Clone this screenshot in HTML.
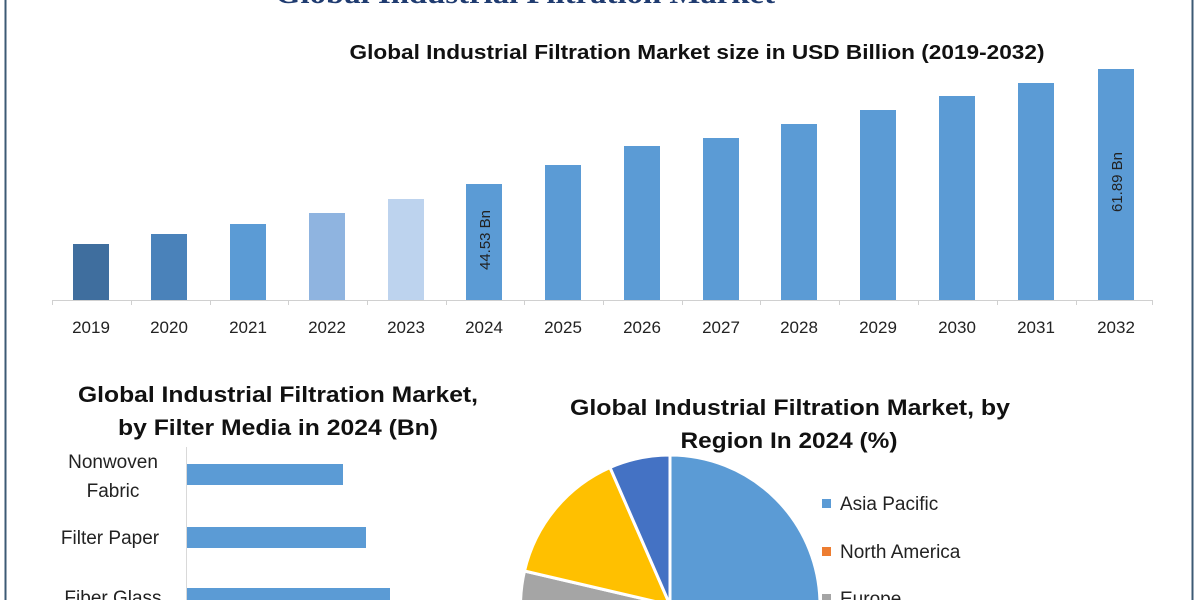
<!DOCTYPE html>
<html><head><meta charset="utf-8"><style>html,body{margin:0;padding:0;background:#fff;width:1200px;height:600px;overflow:hidden}svg{display:block}</style></head>
<body>
<svg width="1200" height="600" viewBox="0 0 1200 600" xmlns="http://www.w3.org/2000/svg" font-family="Liberation Sans, sans-serif" overflow="hidden">
<rect width="1200" height="600" fill="#fff"/>
<line x1="5.5" y1="0" x2="5.5" y2="600" stroke="#3c5a74" stroke-width="2"/>
<line x1="1192.5" y1="0" x2="1192.5" y2="600" stroke="#3c5a74" stroke-width="2"/>
<text x="525" y="3" font-family="Liberation Serif, serif" font-weight="bold" font-size="30" fill="#1f3b70" text-anchor="middle" textLength="500" lengthAdjust="spacingAndGlyphs">Global Industrial Filtration Market</text>
<text x="697" y="59" font-weight="bold" font-size="20" fill="#111" text-anchor="middle" textLength="695" lengthAdjust="spacingAndGlyphs">Global Industrial Filtration Market size in USD Billion (2019-2032)</text>
<line x1="52" y1="300.5" x2="1152" y2="300.5" stroke="#d0d0d0" stroke-width="1"/>
<g stroke="#d0d0d0"><line x1="52.5" y1="300" x2="52.5" y2="305"/><line x1="131.5" y1="300" x2="131.5" y2="305"/><line x1="210.5" y1="300" x2="210.5" y2="305"/><line x1="288.5" y1="300" x2="288.5" y2="305"/><line x1="367.5" y1="300" x2="367.5" y2="305"/><line x1="446.5" y1="300" x2="446.5" y2="305"/><line x1="524.5" y1="300" x2="524.5" y2="305"/><line x1="603.5" y1="300" x2="603.5" y2="305"/><line x1="682.5" y1="300" x2="682.5" y2="305"/><line x1="760.5" y1="300" x2="760.5" y2="305"/><line x1="839.5" y1="300" x2="839.5" y2="305"/><line x1="918.5" y1="300" x2="918.5" y2="305"/><line x1="997.5" y1="300" x2="997.5" y2="305"/><line x1="1076.5" y1="300" x2="1076.5" y2="305"/><line x1="1152.5" y1="300" x2="1152.5" y2="305"/></g>
<rect x="73" y="244" width="36" height="56" fill="#3f6e9e"/>
<rect x="151" y="234" width="36" height="66" fill="#4a82ba"/>
<rect x="230" y="224" width="36" height="76" fill="#5b9bd5"/>
<rect x="309" y="213" width="36" height="87" fill="#8fb4e0"/>
<rect x="388" y="199" width="36" height="101" fill="#bdd3ee"/>
<rect x="466" y="184" width="36" height="116" fill="#5b9bd5"/>
<rect x="545" y="165" width="36" height="135" fill="#5b9bd5"/>
<rect x="624" y="146" width="36" height="154" fill="#5b9bd5"/>
<rect x="703" y="138" width="36" height="162" fill="#5b9bd5"/>
<rect x="781" y="124" width="36" height="176" fill="#5b9bd5"/>
<rect x="860" y="110" width="36" height="190" fill="#5b9bd5"/>
<rect x="939" y="96" width="36" height="204" fill="#5b9bd5"/>
<rect x="1018" y="83" width="36" height="217" fill="#5b9bd5"/>
<rect x="1098" y="69" width="36" height="231" fill="#5b9bd5"/>
<text transform="translate(490,240) rotate(-90)" font-size="15" fill="#222" text-anchor="middle">44.53 Bn</text>
<text transform="translate(1122,182) rotate(-90)" font-size="15" fill="#222" text-anchor="middle">61.89 Bn</text>
<g font-size="17" fill="#222" text-anchor="middle">
<text x="91" y="333">2019</text><text x="169" y="333">2020</text><text x="248" y="333">2021</text><text x="327" y="333">2022</text><text x="406" y="333">2023</text><text x="484" y="333">2024</text><text x="563" y="333">2025</text><text x="642" y="333">2026</text><text x="721" y="333">2027</text><text x="799" y="333">2028</text><text x="878" y="333">2029</text><text x="957" y="333">2030</text><text x="1036" y="333">2031</text><text x="1116" y="333">2032</text>
</g>
<g font-weight="bold" font-size="22" fill="#111" text-anchor="middle">
<text x="278" y="402" textLength="400" lengthAdjust="spacingAndGlyphs">Global Industrial Filtration Market,</text>
<text x="278" y="435" textLength="320" lengthAdjust="spacingAndGlyphs">by Filter Media in 2024 (Bn)</text>
<text x="790" y="415" textLength="440" lengthAdjust="spacingAndGlyphs">Global Industrial Filtration Market, by</text>
<text x="789" y="448" textLength="217" lengthAdjust="spacingAndGlyphs">Region In 2024 (%)</text>
</g>
<line x1="186.5" y1="447" x2="186.5" y2="600" stroke="#d9d9d9"/>
<rect x="187" y="464" width="156" height="21" fill="#5b9bd5"/>
<rect x="187" y="527" width="179" height="21" fill="#5b9bd5"/>
<rect x="187" y="588" width="203" height="21" fill="#5b9bd5"/>
<g font-size="19" fill="#222" text-anchor="middle">
<text x="113" y="468">Nonwoven</text><text x="113" y="497">Fabric</text>
<text x="110" y="544">Filter Paper</text>
<text x="113" y="604">Fiber Glass</text>
</g>
<g stroke="#fff" stroke-width="3">
<path d="M670,605 L670,455 A150,150 0 1,1 670,755 Z" fill="#5b9bd5"/>
<path d="M670,605 L670,755 A150,150 0 0,1 524.5,571 Z" fill="#a5a5a5"/>
<path d="M670,605 L524.5,571 A150,150 0 0,1 610,467.5 Z" fill="#ffc000"/>
<path d="M670,605 L610,467.5 A150,150 0 0,1 670,455 Z" fill="#4472c4"/>
</g>
<rect x="822" y="499" width="9" height="9" fill="#5b9bd5"/>
<rect x="822" y="547" width="9" height="9" fill="#ed7d31"/>
<rect x="822" y="594" width="9" height="9" fill="#a5a5a5"/>
<g font-size="19" fill="#222">
<text x="840" y="510">Asia Pacific</text>
<text x="840" y="558">North America</text>
<text x="840" y="605">Europe</text>
</g>
</svg>
</body></html>
